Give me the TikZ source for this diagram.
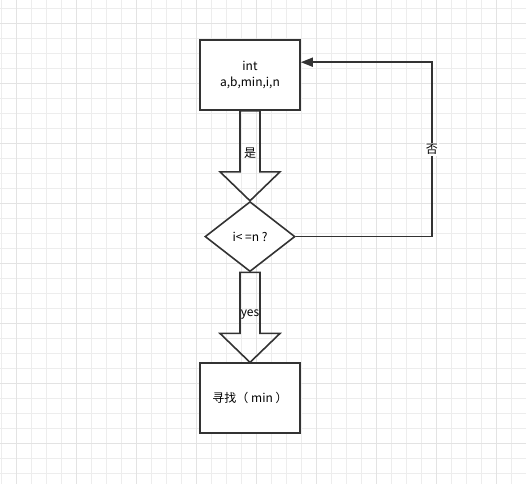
\documentclass[tikz,border=0pt]{standalone}
\usepackage{fontspec}
\setmainfont{Noto Sans CJK SC}
\usetikzlibrary{positioning,calc,arrows.meta,shapes.geometric}
\begin{document}
\begin{tikzpicture}[x=1pt,y=-1pt,node distance=90pt,
  line/.style={draw=black!80, line width=1.6pt},
  box/.style={line, fill=white, minimum width=100pt, minimum height=70pt, align=center, font=\fontsize{12}{16}\selectfont},
  test/.style={line, diamond, fill=white, minimum width=90pt, minimum height=70pt, inner sep=0pt, font=\fontsize{12}{16}\selectfont},
  lbl/.style={font=\fontsize{12}{14}\selectfont, inner sep=1pt}]
  \useasboundingbox (0,0) rectangle (526,484);
  % Background grid
  \foreach \x in {1,16,...,526} \draw[black!7, line width=0.7pt] (\x,0) -- (\x,484);
  \foreach \y in {8,23,...,484} \draw[black!7, line width=0.7pt] (0,\y) -- (526,\y);
  \foreach \x in {16,76,...,526} \draw[black!11, line width=0.7pt] (\x,0) -- (\x,484);
  \foreach \y in {23,83,...,484} \draw[black!11, line width=0.7pt] (0,\y) -- (526,\y);

  % Flow nodes
  \node[box] (int) at (250,75) {int\\a,b,min,i,n};
  \node[test, below=of int] (cond) {i<\ =n\ ?};
  \node[box, below=of cond] (find) {寻找（ min ）};

  % Fat arrows between the nodes
  \foreach \a/\b/\t in {int/cond/是, cond/find/yes} {
    \draw[line, line join=miter] ($(\a.south)+(-10,0)$) -- ($(\b.north)+(-10,-29)$) -- ($(\b.north)+(-30,-29)$)
      -- (\b.north) -- ($(\b.north)+(30,-29)$) -- ($(\b.north)+(10,-29)$) -- ($(\a.south)+(10,0)$) -- cycle;
    \node[lbl] (\a-lbl) at ($(\a.south)+(0,42)$) {\t}; % Label on the shaft
  }

  % Loop back when the test fails
  \coordinate (back) at ($(int.north east)+(0,23)$);
  \draw[line, -{Triangle[length=12pt,width=9pt]}] (cond.east) -| node[pos=0.75, lbl, fill=white] (no) {否}
    ($(back)+(131,0)$) -- (back);
\end{tikzpicture}
\end{document}
